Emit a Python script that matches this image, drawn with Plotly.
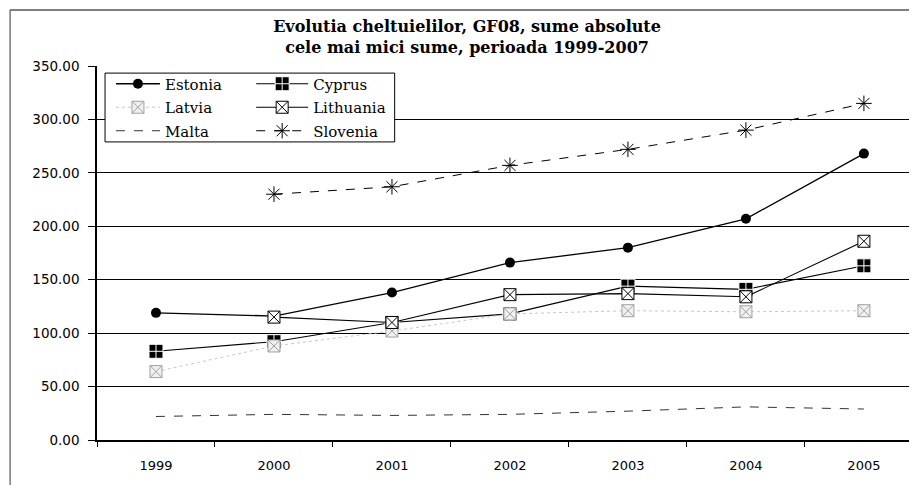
import plotly.graph_objects as go

years = ["1999", "2000", "2001", "2002", "2003", "2004", "2005"]

estonia = [119, 116, 138, 166, 180, 207, 268]
cyprus = [83, 92, 110, 118, 144, 141, 163]
latvia = [64, 88, 102, 118, 121, 120, 121]
lithuania = [None, 115, 110, 136, 137, 134, 186]
malta = [22, 24, 23, 24, 27, 31, 29]
slovenia = [None, 230, 237, 257, 272, 290, 315]

serif = "DejaVu Serif"
sans = "DejaVu Sans"

fig = go.Figure()

fig.add_trace(go.Scatter(
    x=years, y=estonia, name="Estonia", legend="legend", legendgroup="a",
    mode="lines+markers", line=dict(color="black", width=1.3),
    marker=dict(symbol="circle", size=10, color="black"),
))
fig.add_trace(go.Scatter(
    x=years, y=cyprus, name="Cyprus", legend="legend2", legendgroup="d",
    mode="lines+markers", line=dict(color="black", width=1.1),
    marker=dict(symbol="square-cross", size=14, color="black",
                line=dict(color="white", width=1)),
))
fig.add_trace(go.Scatter(
    x=years, y=latvia, name="Latvia", legend="legend", legendgroup="b",
    mode="lines+markers", line=dict(color="#c8c8c8", width=1, dash="dot"),
    marker=dict(symbol="square-x", size=12, color="#f0f0f0",
                line=dict(color="#a0a0a0", width=1)),
))
fig.add_trace(go.Scatter(
    x=years, y=lithuania, name="Lithuania", legend="legend2", legendgroup="e",
    mode="lines+markers", line=dict(color="black", width=1.1),
    marker=dict(symbol="square-x", size=12, color="white",
                line=dict(color="black", width=1)),
))
fig.add_trace(go.Scatter(
    x=years, y=malta, name="Malta", legend="legend", legendgroup="c",
    mode="lines", line=dict(color="#333333", width=1, dash="dash"),
))
fig.add_trace(go.Scatter(
    x=years, y=slovenia, name="Slovenia", legend="legend2", legendgroup="f",
    mode="lines+markers", line=dict(color="black", width=1, dash="dash"),
    marker=dict(symbol="asterisk-open", size=13, color="black",
                line=dict(color="black", width=1)),
))

legend_style = dict(
    bgcolor="rgba(0,0,0,0)", borderwidth=0, orientation="v",
    font=dict(family=serif, size=15, color="black"),
    tracegroupgap=1, yanchor="top", xanchor="left",
)

# the page puts the chart 8px in from the top-left corner, so the figure is
# sized to the visible area
fig.update_layout(
    width=909, height=477,
    margin=dict(l=89, r=0, t=58, b=45),
    paper_bgcolor="white", plot_bgcolor="white",
    title=dict(
        text="Evolutia cheltuielilor, GF08, sume absolute<br>cele mai mici sume, perioada 1999-2007",
        x=0.505, xanchor="center", y=0.95, yanchor="top",
        font=dict(family=serif, size=16, color="black", weight="bold"),
    ),
    legend=dict(x=0.017, y=0.996, itemwidth=44, **legend_style),
    legend2=dict(x=0.188, y=0.996, itemwidth=52, **legend_style),
    xaxis=dict(
        type="category", range=[-0.5, 6.45],
        showline=True, linecolor="black", linewidth=1.5,
        ticks="outside", tickson="boundaries", ticklen=5, tickcolor="black",
        ticklabelstandoff=13,
        showgrid=False, tickfont=dict(family=sans, size=13, color="black"),
    ),
    yaxis=dict(
        range=[0, 350], dtick=50, tickformat=".2f",
        showline=True, linecolor="black", linewidth=1.5,
        ticks="outside", ticklen=7, tickcolor="black",
        ticklabelstandoff=6,
        showgrid=True, gridcolor="black", gridwidth=1.3,
        zeroline=False, tickfont=dict(family=sans, size=13.5, color="black"),
    ),
    shapes=[
        # legend frame
        dict(type="rect", xref="paper", yref="paper", layer="above",
             x0=0.0098, x1=0.363, y0=0.797, y1=0.981,
             fillcolor="white", line=dict(color="black", width=1)),
        # outer chart border (left and top)
        dict(type="line", xref="paper", yref="paper",
             x0=-0.106, x1=-0.106, y0=1.15, y1=-0.12,
             line=dict(color="#555555", width=1.2)),
        dict(type="line", xref="paper", yref="paper",
             x0=-0.106, x1=1.0, y0=1.15, y1=1.15,
             line=dict(color="#555555", width=1.5)),
    ],
)

fig.write_html("out.html")
